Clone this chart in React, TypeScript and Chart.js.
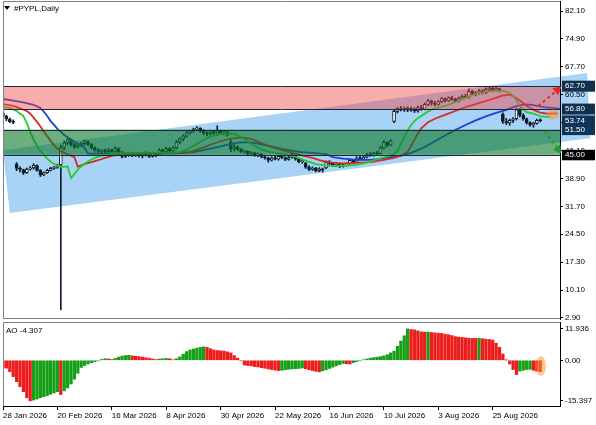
import React, { useEffect, useRef } from 'react';
import { Chart, registerables } from 'chart.js';
Chart.register(...registerables);

// ---------- data ----------
const TICK_LABELS = ['28 Jan 2026', '20 Feb 2026', '16 Mar 2026', '8 Apr 2026', '30 Apr 2026', '22 May 2026', '16 Jun 2026', '10 Jul 2026', '3 Aug 2026', '25 Aug 2026'];
const BARS_PER_LABEL = 16;
const PRICE_TICKS = [2.9, 10.1, 17.3, 24.5, 31.7, 38.9, 46.1, 53.3, 60.5, 67.7, 74.9, 82.1];
const AO_TICKS = [-15.397, 0, 11.936];

const OPEN = [55.8, 54.9, 54.2, 53.6, 42.6, 41.5, 41.2, 40.4, 41.3, 41.6, 42.2, 41.0, 39.8, 40.4, 41.0, 41.5, 41.8, 42.4, 46.9, 48.1,
  48.9, 47.6, 47.0, 47.6, 47.9, 48.4, 47.7, 46.8, 46.2, 45.9, 46.1, 45.8, 46.3, 45.9, 46.6, 45.7, 44.6, 45.0, 45.3, 44.8,
  45.2, 44.7, 45.0, 45.5, 44.6, 45.4, 44.9, 46.2, 45.9, 46.6, 46.0, 46.8, 48.3, 49.1, 49.8, 50.7, 51.1, 51.6, 51.9, 51.1,
  50.6, 50.4, 50.9, 50.6, 51.2, 50.7, 50.9, 48.3, 46.6, 47.0, 46.4, 45.8, 45.9, 45.3, 45.5, 44.9, 45.2, 44.5, 44.2, 43.6,
  44.2, 43.9, 44.6, 44.3, 43.8, 44.3, 45.0, 43.9, 43.2, 42.9, 41.8, 41.2, 41.6, 40.9, 41.4, 41.6, 43.0, 42.8, 42.3, 42.5,
  42.0, 42.4, 42.7, 43.6, 43.1, 44.2, 43.9, 44.4, 45.0, 44.8, 45.4, 45.3, 46.8, 48.2, 47.5, 53.6, 56.2, 56.9, 56.6, 57.0,
  56.5, 56.9, 56.3, 57.2, 56.8, 58.0, 58.9, 58.3, 58.0, 58.7, 59.5, 58.9, 59.7, 59.3, 58.8, 59.6, 60.1, 59.8, 61.4, 60.7,
  61.0, 61.5, 61.0, 61.9, 62.2, 61.6, 62.1, 55.5, 53.6, 53.2, 53.9, 54.3, 56.6, 55.2, 54.3, 53.3, 52.7, 53.1, 53.9];
const HIGH = [56.3, 55.2, 54.5, 54.0, 43.0, 41.9, 41.3, 41.6, 42.0, 42.7, 42.4, 41.2, 40.6, 41.3, 41.8, 42.0, 42.6, 47.5, 48.6, 49.4,
  49.1, 48.0, 47.9, 48.2, 48.8, 48.6, 47.9, 47.1, 46.6, 46.4, 46.5, 46.6, 46.5, 47.1, 46.8, 45.9, 45.3, 45.6, 45.7, 45.5,
  45.6, 45.3, 45.8, 45.6, 45.7, 45.6, 46.6, 46.5, 47.0, 46.9, 47.1, 48.7, 49.4, 50.2, 51.0, 51.4, 51.9, 52.3, 52.0, 51.5,
  51.0, 51.2, 51.3, 52.5, 51.4, 51.2, 51.0, 48.9, 47.6, 47.3, 46.6, 46.2, 46.0, 45.8, 45.6, 45.5, 45.3, 44.9, 44.4, 44.5,
  44.6, 44.9, 45.0, 44.5, 44.6, 45.7, 45.1, 44.3, 43.9, 43.0, 42.2, 41.9, 41.8, 41.7, 41.6, 43.4, 43.5, 43.0, 42.8, 42.7,
  42.6, 42.9, 43.9, 43.8, 44.5, 44.6, 44.7, 45.4, 45.6, 45.6, 45.9, 47.2, 48.7, 48.4, 48.9, 56.6, 57.2, 57.5, 57.3, 57.4,
  57.3, 57.1, 57.6, 57.8, 58.4, 59.3, 59.1, 58.8, 59.0, 59.8, 59.7, 60.0, 60.1, 59.6, 59.9, 60.4, 60.6, 62.0, 61.7, 61.3,
  61.9, 61.8, 62.3, 62.6, 62.4, 62.5, 62.2, 55.8, 54.4, 54.2, 54.6, 57.0, 56.9, 55.6, 54.5, 53.6, 53.4, 54.2, 54.3];
const LOW = [54.6, 53.8, 53.3, 53.0, 40.9, 40.6, 39.9, 40.2, 41.0, 41.3, 40.8, 39.4, 39.6, 40.2, 40.8, 41.2, 41.5, 5.0, 46.3, 47.6,
  47.2, 46.7, 46.8, 47.1, 47.5, 47.4, 46.5, 45.9, 45.6, 45.4, 45.5, 45.6, 45.7, 45.7, 45.5, 44.2, 44.3, 44.6, 44.5, 44.6,
  44.4, 44.2, 44.7, 44.3, 44.4, 44.5, 44.8, 45.7, 45.6, 45.8, 45.8, 46.5, 47.9, 48.6, 49.5, 50.3, 50.8, 51.2, 50.8, 50.2,
  49.9, 50.1, 50.3, 49.9, 50.3, 50.1, 49.8, 45.8, 46.0, 46.1, 45.6, 45.4, 45.0, 44.8, 44.6, 44.5, 44.2, 43.9, 43.1, 43.4,
  43.7, 43.6, 44.0, 43.5, 43.6, 44.1, 43.6, 42.9, 42.8, 41.5, 40.9, 41.0, 40.6, 40.6, 40.5, 41.4, 42.5, 42.0, 41.9, 41.7,
  41.8, 42.1, 42.5, 42.8, 43.0, 43.6, 43.7, 44.2, 44.6, 44.6, 45.0, 45.2, 46.5, 47.0, 47.3, 53.3, 55.8, 56.3, 56.2, 56.1,
  56.2, 55.9, 56.0, 56.5, 56.6, 57.7, 57.8, 57.6, 57.8, 58.4, 58.6, 58.7, 59.0, 58.5, 58.6, 59.3, 59.5, 59.6, 60.3, 60.2,
  60.6, 60.7, 60.8, 61.4, 61.3, 61.4, 61.2, 53.1, 52.8, 52.6, 53.3, 54.0, 54.8, 53.9, 52.9, 52.3, 52.1, 52.9, 53.5];
const CLOSE = [54.9, 54.3, 53.5, 53.4, 41.5, 41.2, 40.3, 41.3, 41.6, 42.3, 41.0, 39.8, 40.4, 41.0, 41.5, 41.8, 42.3, 46.8, 48.1, 48.9,
  47.6, 47.0, 47.6, 47.9, 48.4, 47.7, 46.8, 46.2, 45.9, 46.1, 45.8, 46.3, 45.9, 46.6, 45.7, 44.6, 45.0, 45.3, 44.8, 45.2,
  44.7, 45.0, 45.5, 44.6, 45.4, 44.9, 46.2, 45.9, 46.6, 46.0, 46.8, 48.3, 49.1, 49.8, 50.7, 51.1, 51.6, 51.9, 51.1, 50.6,
  50.4, 50.9, 50.6, 51.2, 50.7, 50.9, 50.1, 46.6, 47.0, 46.4, 45.8, 45.9, 45.3, 45.5, 44.9, 45.2, 44.5, 44.2, 43.6, 44.2,
  43.9, 44.6, 44.3, 43.8, 44.3, 45.0, 43.9, 43.2, 43.5, 41.8, 41.2, 41.6, 40.9, 41.4, 41.1, 43.0, 42.8, 42.3, 42.5, 42.0,
  42.4, 42.7, 43.6, 43.1, 44.2, 43.9, 44.4, 45.0, 44.8, 45.4, 45.3, 46.8, 48.2, 47.5, 48.6, 56.2, 56.9, 56.6, 57.0, 56.5,
  56.9, 56.3, 57.2, 56.8, 58.0, 58.9, 58.3, 58.0, 58.7, 59.5, 58.9, 59.7, 59.3, 58.8, 59.6, 60.1, 59.8, 61.4, 60.7, 61.0,
  61.5, 61.0, 61.9, 62.2, 61.6, 62.1, 61.5, 53.6, 53.2, 53.9, 54.3, 56.6, 55.2, 54.3, 53.3, 52.7, 53.1, 53.9, 53.74];

// Alligator lines (bar index, price)
const LIPS_X = [0, 2, 4, 6, 7, 8, 9, 10, 11, 12, 13, 14, 15, 16, 17, 18, 19, 20, 21, 22, 23, 24, 25, 26, 27, 28, 30, 32, 35, 40, 45, 50, 52, 54, 56, 58, 60, 62, 64, 66, 68, 70, 72, 74, 76, 78, 80, 83, 86, 89, 92, 95, 98, 101, 104, 107, 110, 113, 115, 116, 117, 118, 119, 120, 121, 122, 123, 125, 127, 130, 133, 136, 139, 142, 145, 147, 149, 150, 151, 152, 153, 154, 156, 158, 160, 161];
const LIPS = [57.3, 57.1, 56.3, 55.0, 53.2, 50.9, 49.0, 47.3, 46.0, 45.0, 44.0, 43.2, 42.7, 42.2, 41.9, 41.9, 42.0, 39.0, 40.0, 41.2, 42.0, 42.7, 43.3, 43.8, 44.2, 44.5, 44.9, 45.3, 45.4, 45.5, 45.5, 45.6, 45.7, 46.3, 47.3, 48.3, 49.3, 50.0, 50.4, 50.5, 50.4, 49.6, 48.5, 47.3, 46.4, 45.8, 45.5, 45.2, 44.5, 43.5, 42.6, 42.2, 42.1, 42.2, 42.4, 43.0, 43.9, 44.6, 45.2, 46.0, 47.8, 49.6, 51.3, 52.7, 53.7, 54.5, 55.0, 56.2, 57.0, 57.6, 58.6, 59.7, 60.7, 61.3, 61.5, 61.5, 61.0, 60.2, 59.1, 57.6, 56.6, 56.0, 55.6, 55.0, 54.7, 54.9];
const TEETH_X = [0, 3, 5, 7, 8, 9, 10, 11, 12, 13, 14, 15, 16, 17, 18, 19, 20, 21, 22, 23, 24, 26, 28, 30, 32, 35, 38, 42, 48, 52, 55, 58, 61, 64, 67, 70, 73, 76, 79, 82, 85, 88, 91, 94, 97, 100, 104, 108, 112, 115, 117, 118, 119, 120, 121, 122, 123, 125, 127, 130, 133, 136, 139, 142, 145, 147, 149, 150, 152, 154, 156, 158, 160, 163];
const TEETH = [58.1, 57.6, 57.0, 56.3, 55.6, 54.6, 53.5, 52.3, 51.0, 49.8, 48.6, 47.5, 46.6, 46.0, 45.5, 45.1, 44.8, 44.4, 41.9, 42.3, 42.6, 43.1, 43.6, 44.2, 44.7, 45.1, 45.3, 45.4, 45.4, 45.5, 45.7, 46.6, 47.6, 48.5, 49.2, 49.5, 49.1, 48.0, 47.0, 46.2, 45.5, 44.8, 44.2, 43.4, 43.0, 42.8, 42.9, 43.1, 43.7, 44.2, 44.7, 45.2, 45.8, 47.2, 48.9, 50.5, 51.8, 53.4, 54.3, 55.3, 56.3, 57.3, 58.1, 58.9, 59.7, 60.3, 60.5, 60.1, 59.0, 57.6, 56.6, 55.9, 55.6, 55.7];
const JAW_X = [0, 3, 6, 9, 11, 12, 13, 14, 15, 16, 17, 18, 19, 20, 21, 22, 23, 24, 25, 30, 40, 50, 55, 58, 61, 64, 67, 70, 73, 76, 79, 82, 85, 88, 91, 95, 97, 100, 104, 108, 111, 114, 117, 120, 122, 124, 126, 128, 130, 133, 136, 139, 142, 145, 148, 150, 152, 154, 156, 158, 160, 163, 166];
const JAW = [59.4, 59.0, 58.5, 57.9, 57.1, 56.1, 55.0, 53.7, 52.7, 51.7, 50.9, 50.1, 49.5, 48.9, 48.4, 47.9, 47.5, 46.8, 45.3, 45.3, 45.4, 45.4, 45.6, 46.0, 46.6, 47.2, 47.8, 48.2, 48.2, 47.7, 47.1, 46.5, 46.0, 45.7, 45.5, 45.2, 44.4, 44.0, 43.7, 43.7, 44.0, 44.4, 44.8, 45.5, 46.2, 47.0, 48.0, 49.0, 50.0, 51.4, 52.7, 53.9, 54.9, 55.8, 56.6, 57.3, 57.8, 58.0, 57.8, 57.5, 57.2, 57.0, 56.8];

const AO = [-2.8, -3.0, -4.3, -6.2, -8.1, -10.0, -11.9, -14.2, -15.397,
  -15.1, -14.7, -14.2, -13.8, -13.4, -12.9, -12.4, -11.9,
  -13.0,
  -11.6, -10.5, -9.0, -7.2, -4.9, -2.7, -2.0, -1.4, -0.9, -0.5, -0.2,
  0.3, 0.6, 0.5, 0.3, 0.7, 1.2, 1.6, 1.8, 1.9,
  1.7, 1.5, 1.4, 1.2, 1.0, 0.8, 0.5, 0.3,
  0.5, 0.6, 0.7, 0.6, 0.2,
  0.6, 1.3, 2.3, 3.3, 3.9, 4.3, 4.6, 4.9, 5.1,
  4.9, 4.4, 3.9, 3.7, 3.6, 3.5, 3.2, 2.8, 1.8, 0.8, -0.2, -1.8, -2.0, -2.1, -2.4, -2.5, -2.8, -3.0, -3.3, -3.5, -3.7, -3.9,
  -3.8, -3.6, -3.4, -3.3, -3.2, -3.1, -2.9,
  -3.2, -3.6, -3.9, -4.2, -4.4,
  -4.0, -3.6, -3.1, -2.6, -2.1, -1.6, -1.2,
  -1.3, -1.4,
  -0.9, -0.5, -0.2, 0.2, 0.5, 0.8, 1.0, 1.2, 1.4, 1.7, 2.1, 2.8, 3.5, 5.3, 7.3, 9.3, 11.936,
  11.7, 11.55, 11.2, 10.8, 10.7,
  10.75,
  10.55, 10.4, 10.3, 10.2, 9.9, 9.7, 9.4, 9.0, 8.8, 8.7, 8.5, 8.4, 8.35, 8.3,
  8.35,
  8.2, 8.0, 7.9, 7.7, 6.5, 4.9, 2.4, 0.1, -1.4, -3.5, -5.4,
  -4.1, -3.8, -3.5, -3.4,
  -3.8, -4.1, -4.307];

// zones and annotations (bar index / price)
const RED_ZONE = [62.7, 56.8];
const GREEN_ZONE = [51.5, 45.0];
const LAST_PRICE = 53.74;
const CHANNEL_X = [0, 171.8, 172.6, 2];
const CHANNEL_Y = [46.2, 66.1, 49.3, 30.0];
const UP_ARROW = [[157.4, 57.6], [164.2, 62.6]];
const DOWN_ARROW = [[159.4, 51.1], [164.2, 45.3]];
const PRICE_MARK = [161.8, 55.4];
const AO_MARK = [158.2, -2.2];

// ---------- layout / style ----------
const FONT = '"Liberation Sans", Arial, sans-serif';
const W = 596;
const PRICE_H = 321;
const AO_H = 104;
const AXIS_W = 36;
const X_MAX = 163.8;
const PRICE_MIN = 2.64;
const PRICE_MAX = 84.68;
const AO_MIN = -17.35;
const AO_MAX = 14.54;
const CANDLE = '#0d1b2e';
const FRAME = '#808080';

function drawArrow(ctx: CanvasRenderingContext2D, x1: number, y1: number, x2: number, y2: number, color: string) {
  ctx.save();
  const ang = Math.atan2(y2 - y1, x2 - x1);
  const head = 8;
  const bx = x2 - head * Math.cos(ang);
  const by = y2 - head * Math.sin(ang);
  ctx.strokeStyle = color;
  ctx.lineWidth = 2;
  ctx.setLineDash([3, 3]);
  ctx.beginPath();
  ctx.moveTo(x1, y1);
  ctx.lineTo(bx, by);
  ctx.stroke();
  ctx.setLineDash([]);
  ctx.fillStyle = color;
  ctx.beginPath();
  ctx.moveTo(x2, y2);
  ctx.lineTo(bx + 4.5 * Math.sin(ang), by - 4.5 * Math.cos(ang));
  ctx.lineTo(bx - 4.5 * Math.sin(ang), by + 4.5 * Math.cos(ang));
  ctx.closePath();
  ctx.fill();
  ctx.restore();
}

function labelBox(ctx: CanvasRenderingContext2D, x: number, yTop: number, yBot: number, texts: string[], ys: number[], bg: string) {
  ctx.save();
  ctx.fillStyle = bg;
  ctx.fillRect(x, yTop, 33, yBot - yTop);
  ctx.fillStyle = '#ffffff';
  ctx.font = `8px ${FONT}`;
  ctx.textBaseline = 'middle';
  ctx.textAlign = 'left';
  texts.forEach((t, i) => ctx.fillText(t, x + 3, ys[i]));
  ctx.restore();
}

const noPad = (s: any) => {
  s.paddingTop = 0;
  s.paddingBottom = 0;
  s.paddingLeft = 0;
  s.paddingRight = 0;
};

const priceOverlay = {
  id: 'priceOverlay',
  beforeDraw(chart: any) {
    const { ctx, scales } = chart;
    const xs = scales.x, ys = scales.y;
    ctx.save();
    ctx.fillStyle = 'rgb(168, 210, 246)';
    ctx.beginPath();
    CHANNEL_X.forEach((bx, i) => {
      const px = xs.getPixelForValue(bx), py = ys.getPixelForValue(CHANNEL_Y[i]);
      if (i === 0) ctx.moveTo(px, py); else ctx.lineTo(px, py);
    });
    ctx.closePath();
    ctx.fill();
    ctx.restore();
  },
  afterDatasetsDraw(chart: any) {
    const { ctx, chartArea: a, scales } = chart;
    const ys = scales.y;
    ctx.save();
    ctx.beginPath();
    ctx.rect(a.left, a.top, a.right - a.left, a.bottom - a.top);
    ctx.clip();
    const r1 = ys.getPixelForValue(RED_ZONE[0]), r2 = ys.getPixelForValue(RED_ZONE[1]);
    const g1 = ys.getPixelForValue(GREEN_ZONE[0]), g2 = ys.getPixelForValue(GREEN_ZONE[1]);
    ctx.fillStyle = 'rgba(240, 70, 70, 0.45)';
    ctx.fillRect(a.left, r1, a.right - a.left, r2 - r1);
    ctx.fillStyle = 'rgba(10, 120, 40, 0.6)';
    ctx.fillRect(a.left, g1, a.right - a.left, g2 - g1);
    ctx.strokeStyle = '#1c2833';
    ctx.lineWidth = 1;
    [r1, r2, g1, g2].forEach((y) => {
      const yy = Math.round(y) + 0.5;
      ctx.beginPath();
      ctx.moveTo(a.left, yy);
      ctx.lineTo(a.right, yy);
      ctx.stroke();
    });
    ctx.restore();
  },
  afterDraw(chart: any) {
    const { ctx, chartArea: a, scales } = chart;
    const xs = scales.x, ys = scales.y;
    const P = (p: number[]) => [xs.getPixelForValue(p[0]), ys.getPixelForValue(p[1])];
    const m = P(PRICE_MARK);
    ctx.save();
    ctx.fillStyle = 'rgba(255, 145, 40, 0.55)';
    ctx.beginPath();
    ctx.ellipse(m[0], m[1], 6, 5, 0, 0, Math.PI * 2);
    ctx.fill();
    ctx.restore();
    const u1 = P(UP_ARROW[0]), u2 = P(UP_ARROW[1]);
    drawArrow(ctx, u1[0], u1[1], u2[0], u2[1], '#e8262a');
    const d1 = P(DOWN_ARROW[0]), d2 = P(DOWN_ARROW[1]);
    drawArrow(ctx, d1[0], d1[1], d2[0], d2[1], '#1f9a2a');
    ctx.save();
    ctx.strokeStyle = FRAME;
    ctx.lineWidth = 1;
    ctx.beginPath();
    ctx.moveTo(a.left + 0.5, a.bottom);
    ctx.lineTo(a.left + 0.5, a.top + 0.5);
    ctx.lineTo(a.right, a.top + 0.5);
    ctx.moveTo(a.left, a.bottom - 0.5);
    ctx.lineTo(a.right, a.bottom - 0.5);
    ctx.stroke();
    ctx.restore();
    const bx = a.right + 2;
    const yr1 = ys.getPixelForValue(RED_ZONE[0]);
    const yr2 = ys.getPixelForValue(RED_ZONE[1]);
    const yl = ys.getPixelForValue(LAST_PRICE);
    const yg1 = ys.getPixelForValue(GREEN_ZONE[0]);
    const yg2 = ys.getPixelForValue(GREEN_ZONE[1]);
    labelBox(ctx, bx, yr1 - 5.5, yr1 + 5.5, [RED_ZONE[0].toFixed(2)], [yr1], '#10304f');
    labelBox(ctx, bx, yr2 - 5.5, yr2 + 5.5, [RED_ZONE[1].toFixed(2)], [yr2], '#10304f');
    labelBox(ctx, bx, yl - 5.5, yg1 + 5.5, [LAST_PRICE.toFixed(2), GREEN_ZONE[0].toFixed(2)], [yl, yg1], '#0e3558');
    labelBox(ctx, bx, yg2 - 5, yg2 + 5.5, [GREEN_ZONE[1].toFixed(2)], [yg2], '#000000');
    ctx.save();
    ctx.fillStyle = '#000';
    ctx.beginPath();
    ctx.moveTo(4, 6);
    ctx.lineTo(10, 6);
    ctx.lineTo(7, 10);
    ctx.closePath();
    ctx.fill();
    ctx.font = `8px ${FONT}`;
    ctx.textBaseline = 'middle';
    ctx.textAlign = 'left';
    ctx.fillText('#PYPL,Daily', 14, 8.5);
    ctx.restore();
  },
};

const aoOverlay = {
  id: 'aoOverlay',
  afterDraw(chart: any) {
    const { ctx, chartArea: a, scales } = chart;
    const px = scales.x.getPixelForValue(AO_MARK[0]);
    const py = scales.y.getPixelForValue(AO_MARK[1]);
    ctx.save();
    ctx.fillStyle = 'rgba(255, 145, 40, 0.5)';
    ctx.beginPath();
    ctx.ellipse(px, py, 5, 10, 0, 0, Math.PI * 2);
    ctx.fill();
    ctx.strokeStyle = FRAME;
    ctx.lineWidth = 1;
    ctx.beginPath();
    ctx.moveTo(a.left + 0.5, a.bottom);
    ctx.lineTo(a.left + 0.5, a.top + 0.5);
    ctx.lineTo(a.right, a.top + 0.5);
    ctx.stroke();
    ctx.fillStyle = '#000';
    ctx.font = `8px ${FONT}`;
    ctx.textBaseline = 'middle';
    ctx.textAlign = 'left';
    ctx.fillText('AO ' + AO[AO.length - 1].toFixed(3), 6, a.top + 8.5);
    ctx.restore();
  },
};

export default function App() {
  const priceRef = useRef<HTMLCanvasElement>(null);
  const aoRef = useRef<HTMLCanvasElement>(null);

  useEffect(() => {
    Chart.defaults.font.family = FONT;
    Chart.defaults.font.size = 8;
    const tickFont = { size: 8, family: FONT };

    const priceChart = new Chart(priceRef.current as HTMLCanvasElement, {
      type: 'bar',
      data: {
        datasets: [
          { type: 'line', label: 'Lips', data: LIPS_X.map((x, i) => ({ x, y: LIPS[i] })), borderColor: '#26cc2e', borderWidth: 1.8, pointRadius: 0, tension: 0, order: 0 } as any,
          { type: 'line', label: 'Teeth', data: TEETH_X.map((x, i) => ({ x, y: TEETH[i] })), borderColor: '#d42a2a', borderWidth: 1.8, pointRadius: 0, tension: 0, order: 1 } as any,
          { type: 'line', label: 'Jaw', data: JAW_X.map((x, i) => ({ x, y: JAW[i] })), borderColor: '#1d3fd8', borderWidth: 1.8, pointRadius: 0, tension: 0, order: 2 } as any,
          {
            type: 'bar', label: 'Body',
            data: CLOSE.map((c, i) => ({ x: i, y: [OPEN[i], c] })),
            backgroundColor: CLOSE.map((c, i) => (c >= OPEN[i] ? '#ffffff' : CANDLE)),
            borderColor: CANDLE, borderWidth: 1, borderSkipped: false,
            barThickness: 3, minBarLength: 1, grouped: false, order: 3,
          } as any,
          {
            type: 'bar', label: 'Wick',
            data: HIGH.map((h, i) => ({ x: i, y: [LOW[i], h] })),
            backgroundColor: CANDLE, borderWidth: 0, barThickness: 1, grouped: false, order: 4,
          } as any,
        ],
      },
      options: {
        responsive: false,
        animation: false,
        devicePixelRatio: 1,
        events: [],
        layout: { padding: { left: 3, right: 0, top: 1, bottom: 2 } },
        plugins: { legend: { display: false }, tooltip: { enabled: false } },
        scales: {
          x: { type: 'linear', min: 0, max: X_MAX, display: false, offset: false, grid: { display: false, offset: false } },
          y: {
            type: 'linear', position: 'right', min: PRICE_MIN, max: PRICE_MAX,
            afterBuildTicks: (s: any) => { s.ticks = PRICE_TICKS.map((v) => ({ value: v })); },
            afterFit: (s: any) => { s.width = AXIS_W; noPad(s); },
            ticks: { autoSkip: false, color: '#000', font: tickFont, padding: 2, callback: (v: any) => Number(v).toFixed(2) },
            grid: { drawOnChartArea: false, drawTicks: true, tickLength: 3, color: '#000' },
            border: { display: true, color: '#000', width: 1 },
          },
        },
      } as any,
      plugins: [priceOverlay],
    });

    const aoChart = new Chart(aoRef.current as HTMLCanvasElement, {
      type: 'bar',
      data: {
        datasets: [{
          data: AO.map((v, i) => ({ x: i, y: v })),
          backgroundColor: AO.map((v, i) => (i > 0 && v > AO[i - 1] ? '#17a017' : '#ee1d1d')),
          borderWidth: 0, barThickness: 2.6, grouped: false,
        } as any],
      },
      options: {
        responsive: false,
        animation: false,
        devicePixelRatio: 1,
        events: [],
        layout: { padding: { left: 3, right: 0, top: 1, bottom: 0 } },
        plugins: { legend: { display: false }, tooltip: { enabled: false } },
        scales: {
          x: {
            type: 'linear', min: 0, max: X_MAX, offset: false,
            afterBuildTicks: (s: any) => { s.ticks = TICK_LABELS.map((_, k) => ({ value: k * BARS_PER_LABEL })); },
            afterFit: (s: any) => { s.height = 19; noPad(s); },
            ticks: { autoSkip: false, maxRotation: 0, minRotation: 0, align: 'start', color: '#000', font: tickFont, padding: 1, callback: (_v: any, idx: number) => TICK_LABELS[idx] ?? '' },
            grid: { drawOnChartArea: false, drawTicks: true, tickLength: 4, color: '#000', offset: false },
            border: { display: true, color: '#000', width: 1 },
          },
          y: {
            type: 'linear', position: 'right', min: AO_MIN, max: AO_MAX,
            afterBuildTicks: (s: any) => { s.ticks = AO_TICKS.map((v) => ({ value: v })); },
            afterFit: (s: any) => { s.width = AXIS_W; noPad(s); },
            ticks: { autoSkip: false, color: '#000', font: tickFont, padding: 2, callback: (v: any) => (Math.abs(Number(v)) < 1e-9 ? '0.00' : Number(v).toFixed(3)) },
            grid: { drawOnChartArea: false, drawTicks: true, tickLength: 3, color: '#000' },
            border: { display: true, color: '#000', width: 1 },
          },
        },
      } as any,
      plugins: [aoOverlay],
    });

    return () => {
      priceChart.destroy();
      aoChart.destroy();
    };
  }, []);

  return (
    <div style={{ position: 'absolute', left: 0, top: 0, width: W, height: PRICE_H + AO_H, background: '#ffffff' }}>
      <canvas ref={priceRef} width={W} height={PRICE_H} style={{ position: 'absolute', left: 0, top: 0 }} />
      <canvas ref={aoRef} width={W} height={AO_H} style={{ position: 'absolute', left: 0, top: PRICE_H }} />
    </div>
  );
}
